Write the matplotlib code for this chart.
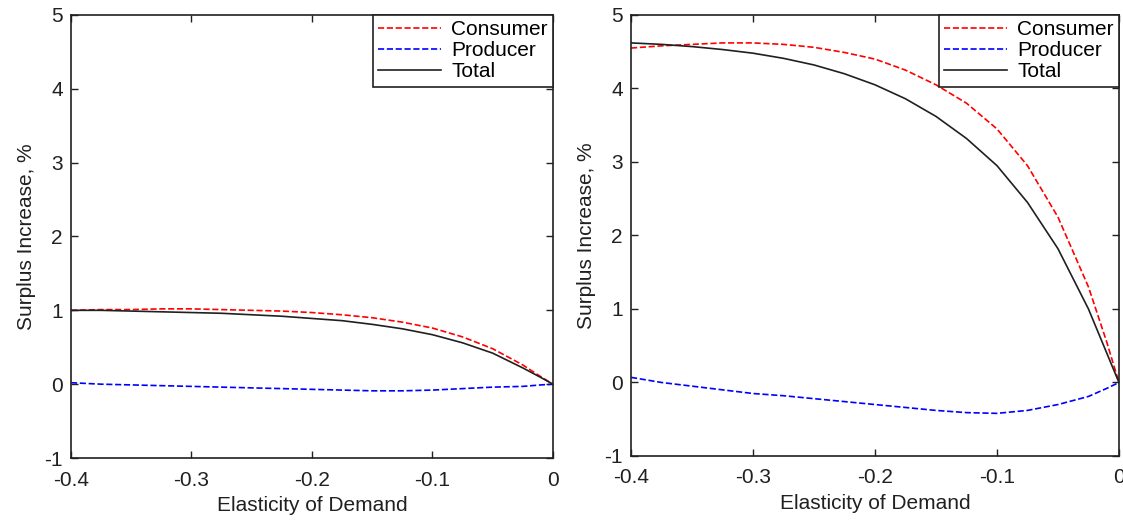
import matplotlib
matplotlib.use("Agg")
import matplotlib.pyplot as plt

plt.rcParams['font.family'] = ['Liberation Sans', 'DejaVu Sans']
plt.rcParams['axes.unicode_minus'] = False

elasticity = [-0.4, -0.375, -0.35, -0.325, -0.3, -0.275, -0.25, -0.225, -0.2,
              -0.175, -0.15, -0.125, -0.1, -0.075, -0.05, -0.025, -0.01, 0.0]

# left panel
consumer_l = [1.00, 1.01, 1.01, 1.02, 1.02, 1.01, 1.00, 0.99, 0.97,
              0.94, 0.90, 0.84, 0.76, 0.64, 0.48, 0.26, 0.10, 0.0]
producer_l = [0.02, 0.00, -0.01, -0.02, -0.03, -0.04, -0.05, -0.06, -0.07,
              -0.08, -0.09, -0.09, -0.08, -0.06, -0.04, -0.03, -0.01, 0.0]
total_l = [1.00, 1.00, 0.99, 0.98, 0.97, 0.96, 0.94, 0.92, 0.89,
           0.86, 0.81, 0.75, 0.67, 0.56, 0.42, 0.22, 0.09, 0.0]

# right panel
consumer_r = [4.55, 4.58, 4.60, 4.62, 4.62, 4.60, 4.56, 4.49, 4.40,
              4.25, 4.05, 3.80, 3.45, 2.95, 2.25, 1.30, 0.55, 0.0]
producer_r = [0.07, 0.00, -0.05, -0.10, -0.15, -0.18, -0.22, -0.26, -0.30,
              -0.34, -0.38, -0.41, -0.42, -0.38, -0.30, -0.19, -0.08, 0.0]
total_r = [4.62, 4.60, 4.57, 4.53, 4.48, 4.41, 4.32, 4.20, 4.05,
           3.86, 3.62, 3.32, 2.95, 2.45, 1.82, 1.00, 0.40, 0.0]

xticks = [-0.4, -0.3, -0.2, -0.1, 0]
xticklabels = ['-0.4', '-0.3', '-0.2', '-0.1', '0']
yticks = [-1, 0, 1, 2, 3, 4, 5]

fig = plt.figure(figsize=(11.23, 5.2), dpi=100)
ax1 = fig.add_axes([0.0632, 0.1192, 0.4292, 0.852])
ax2 = fig.add_axes([0.5619, 0.1231, 0.4345, 0.8481])

fs = 15
for ax, c, p, t in [(ax1, consumer_l, producer_l, total_l), (ax2, consumer_r, producer_r, total_r)]:
    ax.plot(elasticity, c, 'r--', lw=1.2, label='Consumer')
    ax.plot(elasticity, p, 'b--', lw=1.2, label='Producer')
    ax.plot(elasticity, t, color='#202020', lw=1.2, label='Total')
    ax.set_xlim(-0.4, 0)
    ax.set_ylim(-1, 5)
    ax.set_xticks(xticks)
    ax.set_xticklabels(xticklabels)
    ax.set_yticks(yticks)
    ax.tick_params(direction='in', top=True, right=True, length=5, width=1,
                   labelsize=fs, colors='#202020')
    ax.tick_params(axis='x', pad=9)
    ax.tick_params(axis='y', pad=6)
    for s in ax.spines.values():
        s.set_linewidth(1.2)
        s.set_color('#202020')
    ax.set_xlabel('Elasticity of Demand', fontsize=fs, color='#202020', labelpad=5)
    ax.set_ylabel('Surplus Increase, %', fontsize=fs, color='#202020', labelpad=6)
    leg = ax.legend(loc='upper right', bbox_to_anchor=(1, 1), borderaxespad=0,
                    fancybox=False, framealpha=1, edgecolor='#202020',
                    fontsize=fs, handlelength=3.0, handletextpad=0.5,
                    labelspacing=0.1, borderpad=0.25)
    leg.get_frame().set_linewidth(1.2)

fig.savefig('out.png', dpi=100)
